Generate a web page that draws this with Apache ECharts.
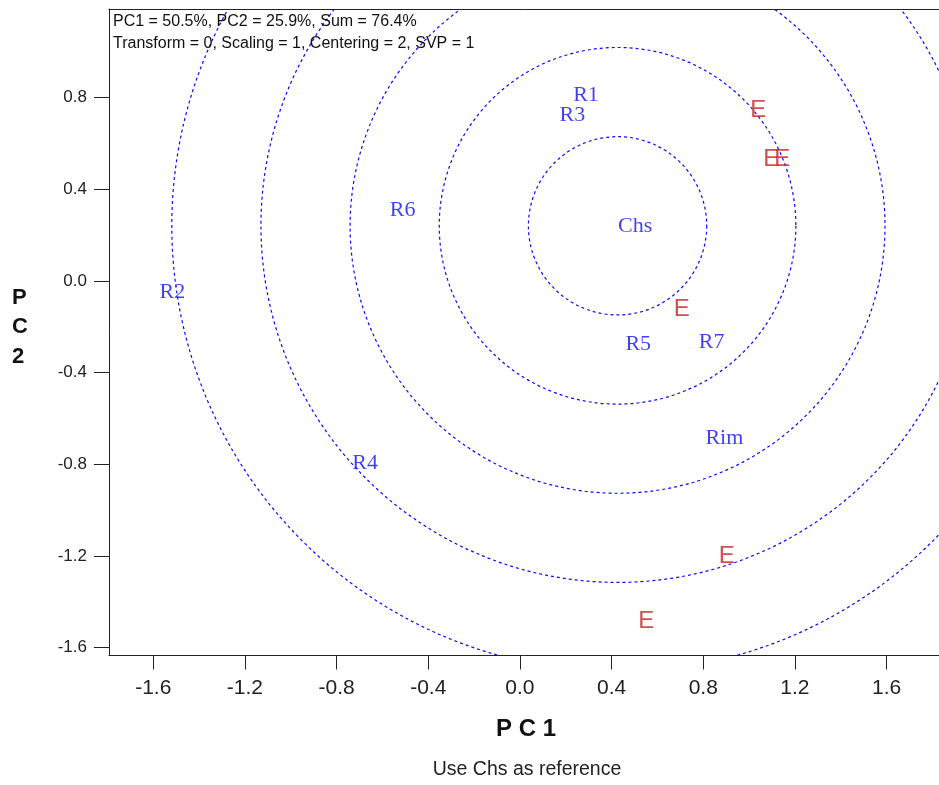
<!DOCTYPE html>
<html>
<head>
<meta charset="utf-8">
<script src="https://cdn.jsdelivr.net/npm/echarts@6/dist/echarts.min.js"></script>
<style>html,body{margin:0;padding:0;background:#fff;}#c{width:939px;height:785px;}</style>
</head>
<body>
<div id="c"></div>
<script>
// Reference-point labels (blue) and their coordinates
const refNames = ['Chs', 'R1', 'R3', 'R5', 'R7', 'R6', 'R2', 'R4', 'Rim'];
const refX = [0.426, 0.230, 0.171, 0.458, 0.778, -0.570, -1.575, -0.734, 0.807];
const refY = [0.241, 0.812, 0.724, -0.275, -0.265, 0.307, -0.047, -0.795, -0.686];
// Environment markers (red "E")
const envX = [1.003, 1.059, 1.108, 0.669, 0.865, 0.514];
const envY = [0.746, 0.532, 0.532, -0.124, -1.203, -1.483];
// Concentric rings around the reference (Chs)
const ringRadii = [0.389, 0.778, 1.167, 1.556, 1.945];
// Tick labels
const tickVals = [-1.6, -1.2, -0.8, -0.4, 0.0, 0.4, 0.8, 1.2, 1.6];
const yTickVals = [-1.6, -1.2, -0.8, -0.4, 0.0, 0.4, 0.8];
const infoText = 'PC1 = 50.5%, PC2 = 25.9%, Sum = 76.4%\nTransform = 0, Scaling = 1, Centering = 2, SVP = 1';
const subText = 'Use Chs as reference';

const chart = echarts.init(document.getElementById('c'), null, {renderer: 'canvas'});
const cx = refX[0], cy = refY[0];
const fmt = v => (Math.abs(v) < 1e-9 ? 0 : v).toFixed(1);
const XMIN = -1.793, XMAX = 1.846, YMIN = -1.634, YMAX = 1.187;

chart.setOption({
  animation: false,
  backgroundColor: '#fff',
  grid: {left: 109, top: 9, width: 834, height: 646.5, show: false, containLabel: false, outerBoundsMode: 'none'},
  title: [
    {text: infoText, left: 113, top: 11, padding: 0, textStyle: {fontFamily: 'Liberation Sans, Arial', fontSize: 16, fontWeight: 'normal', color: '#111', lineHeight: 21.6}},
    {text: subText, left: 527, top: 760, padding: 0, textAlign: 'center', textStyle: {fontFamily: 'Liberation Sans, Arial', fontSize: 19.5, fontWeight: 'normal', color: '#222'}}
  ],
  graphic: [{
    type: 'text', left: 12, top: 283,
    style: {text: 'P\nC\n2', font: 'bold 22px "Liberation Sans", Arial', fill: '#111', lineHeight: 29.5, align: 'center'}
  }],
  xAxis: [{
    type: 'value', min: XMIN, max: XMAX, position: 'bottom',
    name: 'P C 1', nameLocation: 'middle', nameGap: 62,
    nameTextStyle: {fontFamily: 'Liberation Sans, Arial', fontSize: 24, fontWeight: 'bold', color: '#111'},
    axisLine: {show: true, onZero: false, lineStyle: {color: '#222', width: 1}},
    axisTick: {show: true, length: 14, customValues: tickVals, lineStyle: {color: '#222'}},
    axisLabel: {customValues: tickVals, formatter: fmt, margin: 22, fontFamily: 'Liberation Sans, Arial', fontSize: 21, color: '#222'},
    splitLine: {show: false}
  }, {
    type: 'value', min: XMIN, max: XMAX, position: 'top',
    axisLine: {show: true, onZero: false, lineStyle: {color: '#222', width: 1}},
    axisTick: {show: false}, axisLabel: {show: false}, splitLine: {show: false}
  }],
  yAxis: {
    type: 'value', min: YMIN, max: YMAX, position: 'left',
    axisLine: {show: true, onZero: false, lineStyle: {color: '#222', width: 1}},
    axisTick: {show: true, length: 15, customValues: yTickVals, lineStyle: {color: '#222'}},
    axisLabel: {customValues: yTickVals, formatter: fmt, margin: 22, fontFamily: 'Liberation Sans, Arial', fontSize: 17, color: '#222'},
    splitLine: {show: false}
  },
  series: [
    {
      type: 'custom', clip: true, silent: true, xAxisIndex: 0,
      data: ringRadii.map(r => [cx, cy, r]),
      renderItem: function (params, api) {
        const c = api.coord([api.value(0), api.value(1)]);
        const r = api.size([api.value(2), 0])[0];
        return {type: 'circle', shape: {cx: c[0], cy: c[1], r: r},
          style: {fill: null, stroke: '#0a0aff', lineWidth: 1.2, lineDash: [3, 3]}};
      }
    },
    {
      type: 'scatter', symbolSize: 1, xAxisIndex: 0, itemStyle: {color: 'rgba(0,0,0,0)'},
      data: refNames.map((n, i) => ({name: n, value: [refX[i], refY[i]]})),
      label: {show: true, position: 'right', distance: 0, formatter: p => p.name,
        fontFamily: '"Liberation Serif", "Times New Roman", serif', fontSize: 22, color: '#1212f0'}
    },
    {
      type: 'scatter', symbolSize: 1, xAxisIndex: 0, itemStyle: {color: 'rgba(0,0,0,0)'},
      data: envX.map((x, i) => [x, envY[i]]),
      label: {show: true, position: 'right', distance: 0, formatter: 'E',
        fontFamily: '"Liberation Sans", Arial', fontSize: 24, color: '#c82222'}
    }
  ]
});
</script>
</body>
</html>
